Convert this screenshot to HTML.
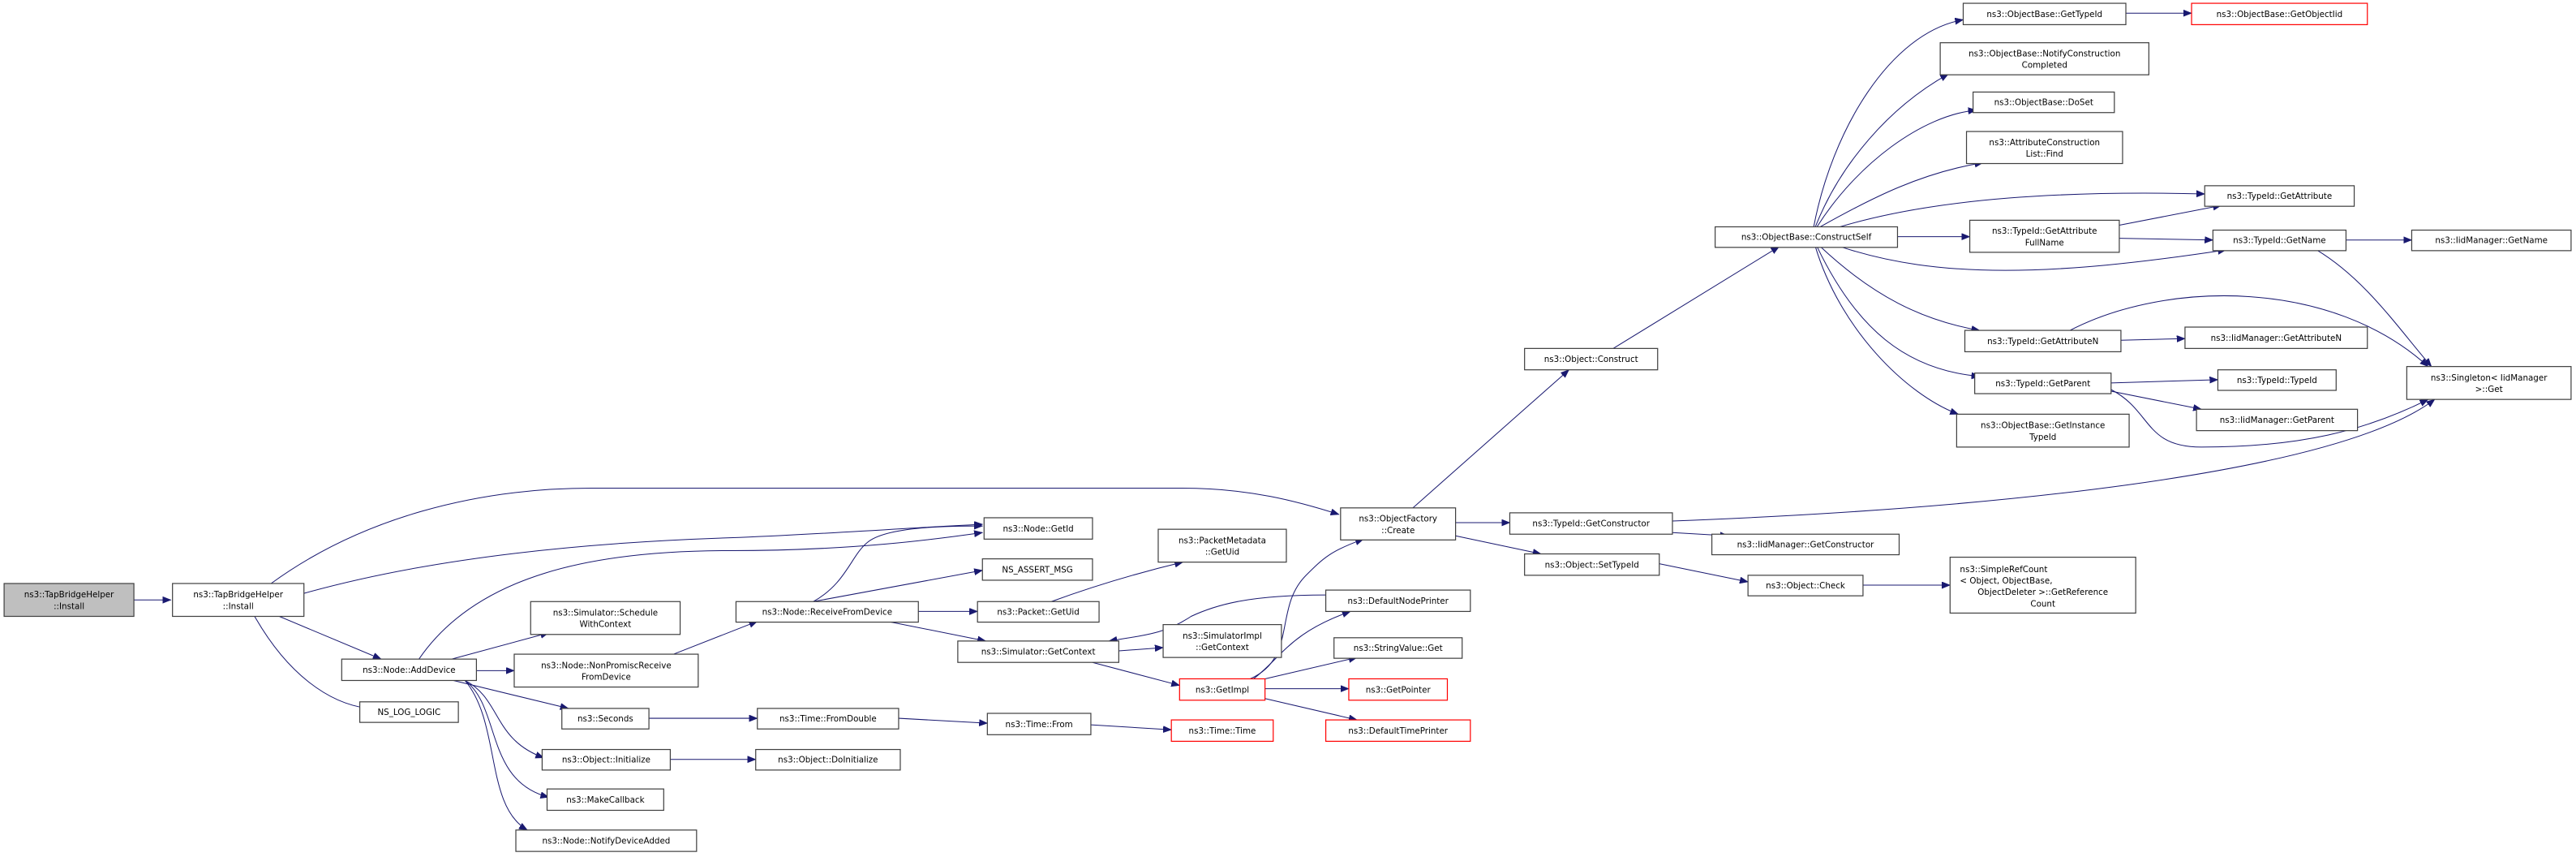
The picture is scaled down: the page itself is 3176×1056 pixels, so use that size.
<!DOCTYPE html>
<html><head><meta charset="utf-8"><style>
html,body{margin:0;padding:0;background:#fff;width:3176px;height:1056px;overflow:hidden}
svg{display:block}
text{font-family:"DejaVu Sans","Liberation Sans",sans-serif;font-size:5.1px;fill:#000;text-anchor:middle}
.b{fill:#fff;stroke:#404040;stroke-width:0.6}
.r{fill:#fff;stroke:#ff0000;stroke-width:0.6}
.g{fill:#bfbfbf;stroke:#404040;stroke-width:0.6}
.e{fill:none;stroke:#191970;stroke-width:0.5;marker-end:url(#a)}
</style></head><body>
<svg width="3176" height="1056" viewBox="0 0 1568 521.4" preserveAspectRatio="none" xmlns="http://www.w3.org/2000/svg">
<defs><marker id="a" markerUnits="userSpaceOnUse" markerWidth="6" markerHeight="5" refX="5" refY="2" orient="auto"><path d="M0,0 L5,2 L0,4 z" fill="#191970" stroke="#191970" stroke-width="0.3"/></marker></defs>

<!-- edges -->
<path class="e" d="M81,365 L104,365"/>
<path class="e" d="M165,355 C220,315 290,297 360,297 L720,297 C760,297 790,305 815,313"/>
<path class="e" d="M185,361 C260,340 350,330 450,327 C520,324 570,320 598,319"/>
<path class="e" d="M255,401 C290,350 360,335 444,335 C520,335 570,328 598,324"/>
<path class="e" d="M170,375 L232,401"/>
<path class="e" d="M155,375 C175,410 200,428 224,431"/>
<path class="e" d="M275,401 L334,385"/>
<path class="e" d="M290,408 L313,408"/>
<path class="e" d="M276,414 L346,431"/>
<path class="e" d="M283,414 C305,425 300,450 331,461"/>
<path class="e" d="M283,414 C305,430 295,475 334,485"/>
<path class="e" d="M283,414 C305,440 295,490 321,505"/>
<path class="e" d="M410,398 L461,378"/>
<path class="e" d="M395,437 L461,437"/>
<path class="e" d="M408,462 L460,462"/>
<path class="e" d="M547,437 L601,440"/>
<path class="e" d="M664,441 L713,444"/>
<path class="e" d="M495,366 C515,355 518,338 528,330 C540,320 580,320 598,320"/>
<path class="e" d="M495,366 L598,347"/>
<path class="e" d="M559,372 L595,372"/>
<path class="e" d="M540,378 L600,390"/>
<path class="e" d="M640,366 C670,355 695,348 720,342"/>
<path class="e" d="M681,396 L708,394"/>
<path class="e" d="M665,403 L718,417"/>
<path class="e" d="M807,362 C760,362 740,368 725,375 C710,385 700,386 675,390"/>
<path class="e" d="M761,413 C790,400 775,370 795,350 C805,340 810,335 830,328"/>
<path class="e" d="M763,413 C780,400 785,385 822,372"/>
<path class="e" d="M770,413 L826,400"/>
<path class="e" d="M770,419 L821,419"/>
<path class="e" d="M770,425 L826,438"/>
<path class="e" d="M860,309 L955,225"/>
<path class="e" d="M886,318 L919,318"/>
<path class="e" d="M886,326 L938,337"/>
<path class="e" d="M1018,324 L1052,326"/>
<path class="e" d="M1018,317 C1200,310 1420,290 1482,243"/>
<path class="e" d="M1010,343 L1064,354"/>
<path class="e" d="M1134,356 L1187,356"/>
<path class="e" d="M982,212 L1083,150"/>
<path class="e" d="M1104,138 C1115,80 1150,20 1195,12"/>
<path class="e" d="M1105,138 C1120,100 1150,65 1186,45"/>
<path class="e" d="M1106,138 C1130,100 1170,70 1203,67"/>
<path class="e" d="M1108,138 C1140,120 1170,105 1207,99"/>
<path class="e" d="M1120,138 C1180,120 1260,116 1342,118"/>
<path class="e" d="M1155,144 L1199,144"/>
<path class="e" d="M1120,150 C1180,170 1250,168 1355,152"/>
<path class="e" d="M1108,150 C1140,180 1170,195 1205,201"/>
<path class="e" d="M1106,150 C1130,200 1160,225 1205,229"/>
<path class="e" d="M1105,150 C1120,200 1160,240 1192,252"/>
<path class="e" d="M1290,137 L1352,125"/>
<path class="e" d="M1290,145 L1347,146"/>
<path class="e" d="M1428,146 L1468,146"/>
<path class="e" d="M1410,152 C1440,170 1460,200 1480,223"/>
<path class="e" d="M1260,201 C1320,170 1420,170 1478,223"/>
<path class="e" d="M1291,207 L1330,206"/>
<path class="e" d="M1285,233 L1350,231"/>
<path class="e" d="M1280,237 L1340,249"/>
<path class="e" d="M1285,237 C1310,250 1305,272 1340,272 C1400,272 1440,262 1478,243"/>
<path class="e" d="M1294,8 L1334,8"/>

<!-- nodes -->
<rect class="g" x="2.5" y="355" width="79" height="20"/><text x="42" y="363.5">ns3::TapBridgeHelper</text><text x="42" y="370.5">::Install</text>
<rect class="b" x="105" y="355" width="80" height="20"/><text x="145" y="363.5">ns3::TapBridgeHelper</text><text x="145" y="370.5">::Install</text>
<rect class="b" x="208" y="401" width="82" height="13"/><text x="249" y="409.3">ns3::Node::AddDevice</text>
<rect class="b" x="219" y="427" width="60" height="12.5"/><text x="249" y="435">NS_LOG_LOGIC</text>
<rect class="b" x="323" y="366" width="91" height="20"/><text x="368.5" y="374.5">ns3::Simulator::Schedule</text><text x="368.5" y="381.5">WithContext</text>
<rect class="b" x="313" y="398" width="112" height="20"/><text x="369" y="406.5">ns3::Node::NonPromiscReceive</text><text x="369" y="413.5">FromDevice</text>
<rect class="b" x="342" y="431" width="53" height="12.5"/><text x="368.5" y="439">ns3::Seconds</text>
<rect class="b" x="330" y="456" width="78" height="12.5"/><text x="369" y="464">ns3::Object::Initialize</text>
<rect class="b" x="333" y="480" width="71" height="13"/><text x="368.5" y="488.3">ns3::MakeCallback</text>
<rect class="b" x="314" y="505" width="110" height="13"/><text x="369" y="513.3">ns3::Node::NotifyDeviceAdded</text>
<rect class="b" x="599" y="315" width="66" height="13"/><text x="632" y="323.3">ns3::Node::GetId</text>
<rect class="b" x="598" y="340" width="67" height="13"/><text x="631.5" y="348.3">NS_ASSERT_MSG</text>
<rect class="b" x="448" y="366" width="111" height="12.5"/><text x="503.5" y="374">ns3::Node::ReceiveFromDevice</text>
<rect class="b" x="595" y="366" width="74" height="12.5"/><text x="632" y="374">ns3::Packet::GetUid</text>
<rect class="b" x="705" y="322" width="78" height="20"/><text x="744" y="330.5">ns3::PacketMetadata</text><text x="744" y="337.5">::GetUid</text>
<rect class="b" x="583" y="390" width="98" height="13"/><text x="632" y="398.3">ns3::Simulator::GetContext</text>
<rect class="b" x="708" y="380" width="72" height="20"/><text x="744" y="388.5">ns3::SimulatorImpl</text><text x="744" y="395.5">::GetContext</text>
<rect class="r" x="718" y="413" width="52" height="13"/><text x="744" y="421.3">ns3::GetImpl</text>
<rect class="b" x="816" y="309" width="70" height="19.5"/><text x="851" y="317.3">ns3::ObjectFactory</text><text x="851" y="324.3">::Create</text>
<rect class="b" x="807" y="359" width="88" height="13"/><text x="851" y="367.3">ns3::DefaultNodePrinter</text>
<rect class="b" x="812" y="388" width="78" height="12.5"/><text x="851" y="396">ns3::StringValue::Get</text>
<rect class="r" x="821" y="413" width="60" height="13"/><text x="851" y="421.3">ns3::GetPointer</text>
<rect class="r" x="807" y="438" width="88" height="13"/><text x="851" y="446.3">ns3::DefaultTimePrinter</text>
<rect class="b" x="461" y="431" width="86" height="12.5"/><text x="504" y="439">ns3::Time::FromDouble</text>
<rect class="b" x="601" y="434" width="63" height="13"/><text x="632.5" y="442.3">ns3::Time::From</text>
<rect class="r" x="713" y="438" width="62" height="13"/><text x="744" y="446.3">ns3::Time::Time</text>
<rect class="b" x="460" y="456" width="88" height="12.5"/><text x="504" y="464">ns3::Object::DoInitialize</text>
<rect class="b" x="928" y="212" width="81" height="13"/><text x="968.5" y="220.3">ns3::Object::Construct</text>
<rect class="b" x="919" y="312" width="99" height="13"/><text x="968.5" y="320.3">ns3::TypeId::GetConstructor</text>
<rect class="b" x="1042" y="325" width="114" height="12.5"/><text x="1099" y="333">ns3::IidManager::GetConstructor</text>
<rect class="b" x="928" y="337" width="82" height="13"/><text x="969" y="345.3">ns3::Object::SetTypeId</text>
<rect class="b" x="1064" y="350" width="70" height="12.5"/><text x="1099" y="358">ns3::Object::Check</text>
<rect class="b" x="1187" y="339" width="113" height="34"/><text x="1193" y="348" style="text-anchor:start">ns3::SimpleRefCount</text><text x="1193" y="355" style="text-anchor:start">&lt; Object, ObjectBase,</text><text x="1243.5" y="362">ObjectDeleter &gt;::GetReference</text><text x="1243.5" y="369">Count</text>
<rect class="b" x="1465" y="223" width="100" height="20"/><text x="1515" y="231.5">ns3::Singleton&lt; IidManager</text><text x="1515" y="238.5">&gt;::Get</text>
<rect class="b" x="1196" y="201" width="95" height="13"/><text x="1243.5" y="209.3">ns3::TypeId::GetAttributeN</text>
<rect class="b" x="1330" y="199" width="111" height="13"/><text x="1385.5" y="207.3">ns3::IidManager::GetAttributeN</text>
<rect class="b" x="1202" y="227" width="83" height="12.5"/><text x="1243.5" y="235">ns3::TypeId::GetParent</text>
<rect class="b" x="1350" y="225" width="72" height="12.5"/><text x="1386" y="233">ns3::TypeId::TypeId</text>
<rect class="b" x="1337" y="249" width="98" height="13"/><text x="1386" y="257.3">ns3::IidManager::GetParent</text>
<rect class="b" x="1191" y="252" width="105" height="20"/><text x="1243.5" y="260.5">ns3::ObjectBase::GetInstance</text><text x="1243.5" y="267.5">TypeId</text>
<rect class="b" x="1195" y="2" width="99" height="13"/><text x="1244.5" y="10.3">ns3::ObjectBase::GetTypeId</text>
<rect class="r" x="1334" y="2" width="107" height="13"/><text x="1387.5" y="10.3">ns3::ObjectBase::GetObjectIid</text>
<rect class="b" x="1181" y="26" width="127" height="19.5"/><text x="1244.5" y="34.3">ns3::ObjectBase::NotifyConstruction</text><text x="1244.5" y="41.3">Completed</text>
<rect class="b" x="1201" y="56" width="86" height="12.5"/><text x="1244" y="64">ns3::ObjectBase::DoSet</text>
<rect class="b" x="1197" y="80" width="95" height="19.5"/><text x="1244.5" y="88.3">ns3::AttributeConstruction</text><text x="1244.5" y="95.3">List::Find</text>
<rect class="b" x="1342" y="113" width="91" height="12.5"/><text x="1387.5" y="121">ns3::TypeId::GetAttribute</text>
<rect class="b" x="1044" y="138" width="111" height="12.5"/><text x="1099.5" y="146">ns3::ObjectBase::ConstructSelf</text>
<rect class="b" x="1199" y="134" width="91" height="19.5"/><text x="1244.5" y="142.3">ns3::TypeId::GetAttribute</text><text x="1244.5" y="149.3">FullName</text>
<rect class="b" x="1347" y="140" width="81" height="12.5"/><text x="1387.5" y="148">ns3::TypeId::GetName</text>
<rect class="b" x="1468" y="140" width="97" height="12.5"/><text x="1516.5" y="148">ns3::IidManager::GetName</text>
</svg>
</body></html>
